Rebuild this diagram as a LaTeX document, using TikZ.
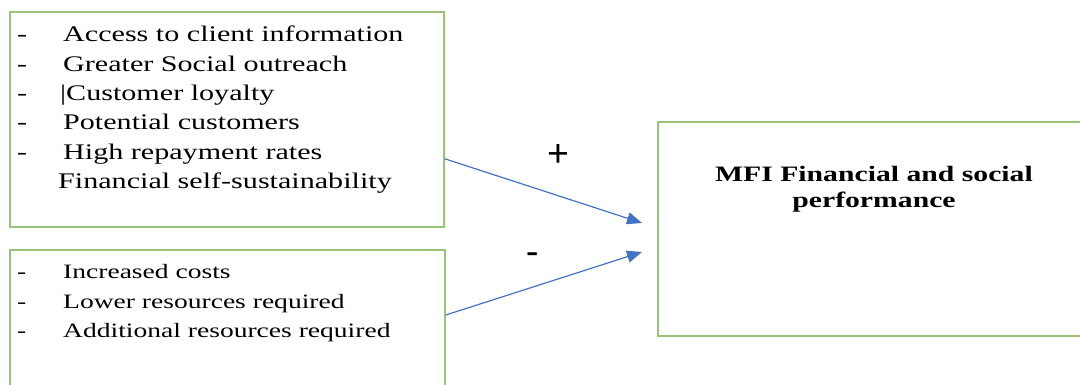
\documentclass[tikz,border=0pt]{standalone}
\usepackage{fontspec}
\setmainfont{Liberation Serif}[FakeStretch=1.35]
\newfontfamily\signfont{Carlito}
\usetikzlibrary{arrows.meta,calc}
\definecolor{boxgreen}{HTML}{9AC27A}
\definecolor{linkblue}{HTML}{4472C4}
\newcommand{\listdash}[1]{\makebox[46pt][l]{-}#1}

\begin{document}
\begin{tikzpicture}[x=1pt,y=1pt,
  box/.style={draw=boxgreen,line width=1.8pt,anchor=north west,inner sep=0pt},
  lst/.style={anchor=north west,align=left,inner sep=0pt,font=\fontsize{22.3}{29.3}\selectfont},
  title/.style={align=center,inner sep=0pt,font=\bfseries\fontsize{22}{26}\selectfont},
  sign/.style={inner sep=0pt,font=\signfont\fontsize{40}{40}\selectfont},
  link/.style={draw=linkblue,line width=1.2pt,-{Triangle[length=15pt,width=12pt]}}]
\clip (0,0) rectangle (1080,385);
\fill[white] (0,0) rectangle (1080,385);
% boxes
\node[box,minimum width=434,minimum height=215] (posbox) at (9,374) {};
\node[box,minimum width=435,minimum height=160] (negbox) at (9,136) {};
\node[box,minimum width=430,minimum height=214] (perfbox) at (657,264) {};
% texts
\node[lst] (poslist) at (17,359) {\listdash{Access to client information}\\
  \listdash{Greater Social outreach}\\
  \makebox[43pt][l]{-}|Customer loyalty\\
  \listdash{Potential customers}\\
  \listdash{High repayment rates}\\
  \hspace*{41pt}Financial self-sustainability};
\node[lst,font=\fontsize{20.4}{29.8}\selectfont] (neglist) at (17,121) {\listdash{Increased costs}\\
  \listdash{Lower resources required}\\
  \listdash{Additional resources required}};
\node[title,anchor=north] (perf) at (874,219) {MFI Financial and social\\performance};
\node[sign] (plus) at (558,229) {+};
\node[sign] (minus) at (533,126) {-};
% links
\coordinate (posend) at (642,162);
\coordinate (negend) at (642,133);
\draw[link] ($(posbox.south east)+(0,69)$) -- (posend);
\draw[link] ($(negbox.north east)+(0,-66)$) -- (negend);
\end{tikzpicture}
\end{document}
